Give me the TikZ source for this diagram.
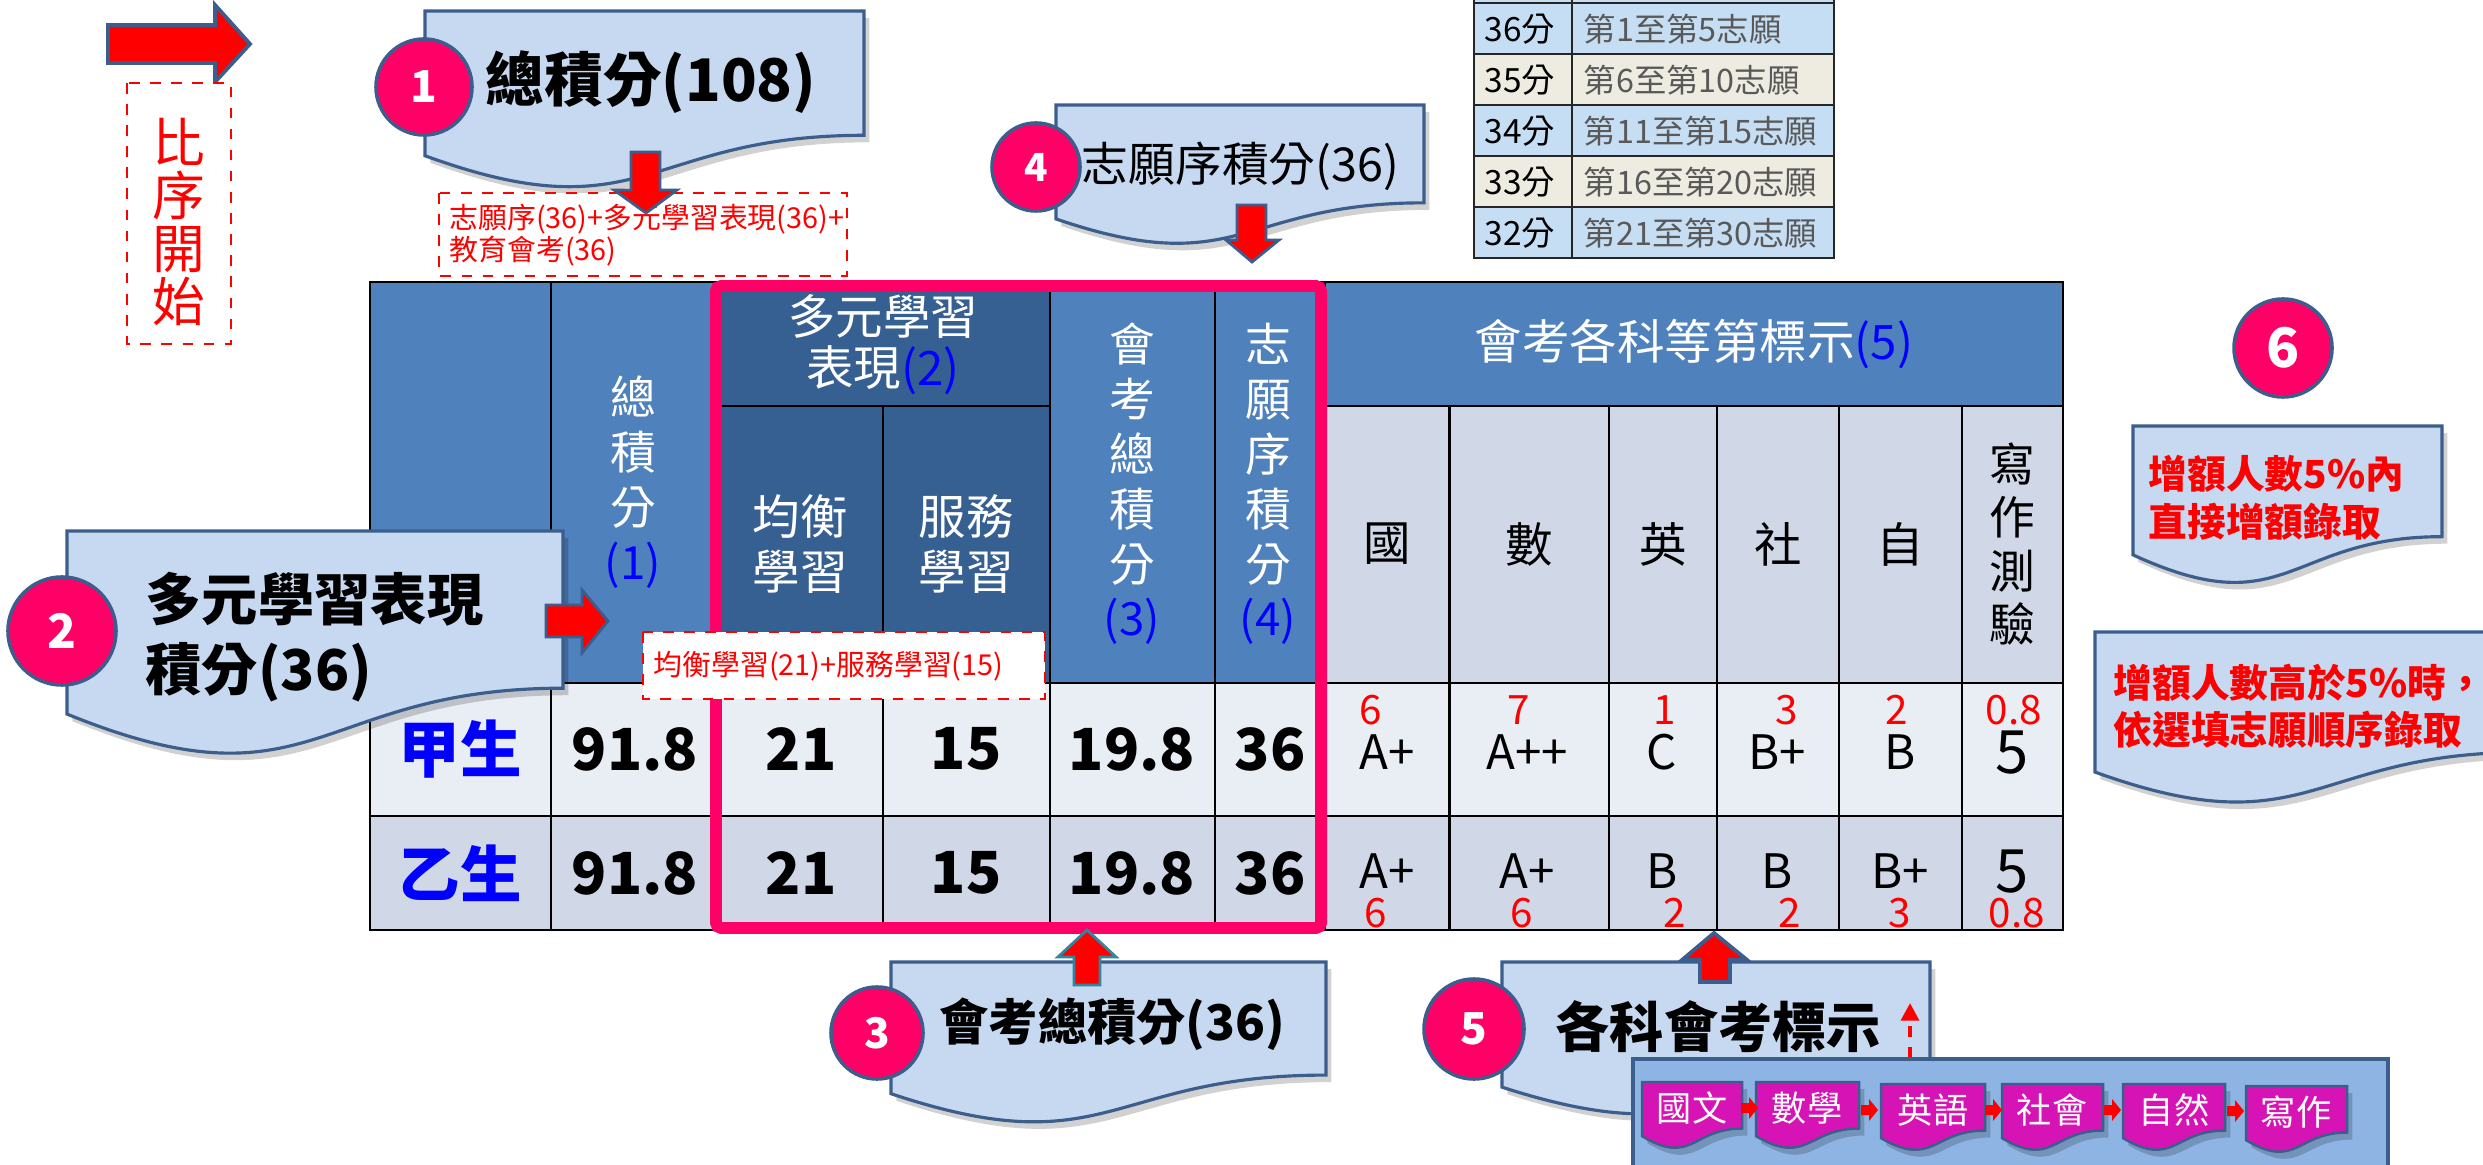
\documentclass[tikz,border=0pt]{standalone}
\usepackage{fontspec}
\setmainfont{Noto Sans CJK TC}
\usetikzlibrary{arrows.meta}
\definecolor{hdr}{HTML}{4F81BD}
\definecolor{hdrdark}{HTML}{376092}
\definecolor{subjc}{HTML}{D0D8E8}
\definecolor{rowa}{HTML}{E9EDF4}
\definecolor{rowb}{HTML}{D0D8E8}
\definecolor{pinkc}{HTML}{FF0066}
\definecolor{callfill}{HTML}{C6D9F1}
\definecolor{callline}{HTML}{3B5E8C}
\definecolor{panelc}{HTML}{8EB4E3}
\definecolor{magc}{HTML}{D614B5}
\definecolor{tblue}{HTML}{C6DEF3}
\definecolor{tbeige}{HTML}{EEECE1}
\definecolor{tgray}{HTML}{595959}
\definecolor{pureblue}{HTML}{0000FF}
\definecolor{tealb}{HTML}{31859C}
\newcommand\fsz[2]{\fontsize{#1}{#2}\selectfont}
\newcommand\docshape[5]{\path[#1] (#2,#3) -- ({#2+#4},#3) -- ({#2+#4},{#3+0.802*#5}) .. controls ({#2+0.5*#4},{#3+0.802*#5}) and ({#2+0.5*#4},{#3+1.45*#5}) .. (#2,{#3+0.934*#5}) -- cycle;}
\newcommand\smallarr[2]{\fill[red] (#1,{#2-5}) -- ({#1+8},{#2-5}) -- ({#1+8},{#2-11}) -- ({#1+17},#2) -- ({#1+8},{#2+11}) -- ({#1+8},{#2+5}) -- (#1,{#2+5}) -- cycle;}
\tikzset{
  shadowed/.style={preaction={fill=black, fill opacity=0.18, draw=none, transform canvas={xshift=1.5pt,yshift=-2pt}}},
  calloutbox/.style={fill=callfill, draw=callline, line width=0.9pt, shadowed},
  subjbox/.style={fill=magc, draw=callline, line width=0.7pt, shadowed},
  numcirc/.style={circle, fill=pinkc, draw=callline, line width=1pt, text=white, inner sep=0pt},
  blockarr/.style={fill=red, draw=callline, line width=0.8pt, line join=miter},
  gridl/.style={draw=black, line width=0.8pt},
  sgrid/.style={draw=black!85, line width=0.6pt},
  hdrtxt/.style={text=white, align=center, inner sep=0pt},
  celltxt/.style={text=black, inner sep=0pt},
  rednum/.style={text=red, inner sep=0pt, font=\fsz{11.5}{11.5}},
  grade/.style={text=black, inner sep=0pt, font=\fsz{13.5}{13.5}},
  bignum/.style={text=black, inner sep=0pt, font=\bfseries\fsz{16.5}{16.5}},
  dashbox/.style={draw=red, dashed, line width=0.5pt, fill=white},
  redtxt/.style={text=red, inner sep=0pt, align=left, font=\fsz{8.2}{9.1}},
}
\begin{document}
\begin{tikzpicture}[x=0.01cm,y=-0.01cm]
\useasboundingbox (0,0) rectangle (2483,1165);
\fill[white] (0,0) rectangle (2483,1165);
\begin{scope}
\clip (0,0) rectangle (2483,1165);

% ---------- small table (top right)
\fill[tblue] (1474,-10) rectangle (1834,3);
\fill[tblue] (1474,3) rectangle (1834,54);
\fill[tbeige] (1474,54) rectangle (1834,105);
\fill[tblue] (1474,105) rectangle (1834,156);
\fill[tbeige] (1474,156) rectangle (1834,207);
\fill[tblue] (1474,207) rectangle (1834,258);
\draw[sgrid] (1474,-10) rectangle (1834,258);
\foreach \yy in {3,54,105,156,207} \draw[sgrid] (1474,\yy) -- (1834,\yy);
\draw[sgrid] (1572,-10) -- (1572,258);
\node[celltxt, anchor=west, font=\fsz{9.5}{9.5}] (s1a) at (1484,29) {36分};
\node[celltxt, anchor=west, font=\fsz{9.5}{9.5}] (s2a) at (1484,80) {35分};
\node[celltxt, anchor=west, font=\fsz{9.5}{9.5}] (s3a) at (1484,131) {34分};
\node[celltxt, anchor=west, font=\fsz{9.5}{9.5}] (s4a) at (1484,182) {33分};
\node[celltxt, anchor=west, font=\fsz{9.5}{9.5}] (s5a) at (1484,233) {32分};
\node[celltxt, text=tgray, anchor=west, font=\fsz{9.2}{9.2}] (s1b) at (1583,29) {第1至第5志願};
\node[celltxt, text=tgray, anchor=west, font=\fsz{9.2}{9.2}] (s2b) at (1583,80) {第6至第10志願};
\node[celltxt, text=tgray, anchor=west, font=\fsz{9.2}{9.2}] (s3b) at (1583,131) {第11至第15志願};
\node[celltxt, text=tgray, anchor=west, font=\fsz{9.2}{9.2}] (s4b) at (1583,182) {第16至第20志願};
\node[celltxt, text=tgray, anchor=west, font=\fsz{9.2}{9.2}] (s5b) at (1583,233) {第21至第30志願};

% ---------- main table fills
\fill[hdr] (370,282) rectangle (716,683);
\fill[hdrdark] (716,282) rectangle (1050,683);
\fill[hdr] (1050,282) rectangle (1325,683);
\fill[hdr] (1325,282) rectangle (2063,406);
\fill[subjc] (1325,406) rectangle (2063,683);
\fill[rowa] (370,683) rectangle (2063,816);
\fill[rowb] (370,816) rectangle (2063,930);
% grid
\draw[gridl] (370,282) rectangle (2063,930);
\draw[gridl] (716,406) -- (1050,406);
\draw[gridl] (1325,406) -- (2063,406);
\draw[gridl] (370,683) -- (2063,683);
\draw[gridl] (370,816) -- (2063,816);
\foreach \xx in {551,716,1050,1215,1325} \draw[gridl] (\xx,282) -- (\xx,930);
\foreach \xx in {883,1449.5,1609,1717,1839,1962} \draw[gridl] (\xx,406) -- (\xx,930);

% header texts
\node[hdrtxt, font=\fsz{13}{15.6}] (h1) at (633,482) {總\\積\\分\\\textcolor{pureblue}{(1)}};
\node[hdrtxt, font=\fsz{13.5}{14.5}] (h2) at (883,345) {多元學習\\表現\textcolor{pureblue}{(2)}};
\node[hdrtxt, font=\fsz{13.5}{15.4}] (h2a) at (800,544) {均衡\\學習};
\node[hdrtxt, font=\fsz{13.5}{15.4}] (h2b) at (966,544) {服務\\學習};
\node[hdrtxt, font=\fsz{13}{15.6}] (h3) at (1132,484) {會\\考\\總\\積\\分\\\textcolor{pureblue}{(3)}};
\node[hdrtxt, font=\fsz{13}{15.6}] (h4) at (1268,484) {志\\願\\序\\積\\分\\\textcolor{pureblue}{(4)}};
\node[hdrtxt, font=\fsz{13.5}{13.5}] (h5) at (1694,344) {會考各科等第標示\textcolor{pureblue}{(5)}};
\node[celltxt, font=\fsz{13.5}{13.5}] (hs1) at (1387,544) {國};
\node[celltxt, font=\fsz{13.5}{13.5}] (hs2) at (1529,544) {數};
\node[celltxt, font=\fsz{13.5}{13.5}] (hs3) at (1663,544) {英};
\node[celltxt, font=\fsz{13.5}{13.5}] (hs4) at (1778,544) {社};
\node[celltxt, font=\fsz{13.5}{13.5}] (hs5) at (1900,544) {自};
\node[celltxt, align=center, font=\fsz{13}{15.1}] (hs6) at (2012,544) {寫\\作\\測\\驗};

% row 甲
\node[celltxt, text=pureblue, font=\bfseries\fsz{17.5}{17.5}] (ra0) at (460,749) {甲生};
\node[bignum] (ra1) at (635,749) {91.8};
\node[bignum] (ra2) at (801,749) {21};
\node[bignum] (ra3) at (966,749) {15};
\node[bignum] (ra4) at (1132,749) {19.8};
\node[bignum] (ra5) at (1270,749) {36};
\node[grade] (ga1) at (1387,752) {A+};
\node[grade] (ga2) at (1527,752) {A++};
\node[grade] (ga3) at (1662,752) {C};
\node[grade] (ga4) at (1777,752) {B+};
\node[grade] (ga5) at (1900,752) {B};
\node[celltxt, font=\fsz{17}{17}] (ga6) at (2012,753) {5};
\node[rednum] (na1) at (1371,710) {6};
\node[rednum] (na2) at (1519,710) {7};
\node[rednum] (na3) at (1665,710) {1};
\node[rednum] (na4) at (1787,710) {3};
\node[rednum] (na5) at (1897,710) {2};
\node[rednum] (na6) at (2014,710) {0.8};
% row 乙
\node[celltxt, text=pureblue, font=\bfseries\fsz{17.5}{17.5}] (rb0) at (460,873) {乙生};
\node[bignum] (rb1) at (635,873) {91.8};
\node[bignum] (rb2) at (801,873) {21};
\node[bignum] (rb3) at (966,873) {15};
\node[bignum] (rb4) at (1132,873) {19.8};
\node[bignum] (rb5) at (1270,873) {36};
\node[grade] (gb1) at (1387,871) {A+};
\node[grade] (gb2) at (1527,871) {A+};
\node[grade] (gb3) at (1662,871) {B};
\node[grade] (gb4) at (1777,871) {B};
\node[grade] (gb5) at (1900,871) {B+};
\node[celltxt, font=\fsz{17}{17}] (gb6) at (2012,872) {5};
\node[rednum] (nb1) at (1376,913) {6};
\node[rednum] (nb2) at (1522,913) {6};
\node[rednum] (nb3) at (1675,913) {2};
\node[rednum] (nb4) at (1790,913) {2};
\node[rednum] (nb5) at (1900,913) {3};
\node[rednum] (nb6) at (2017,913) {0.8};

% pink frame
\draw[pinkc, line width=3.4pt, rounded corners=1.5pt] (716,286) rectangle (1321,928);

% ---------- 比序開始
\draw[blockarr, line width=1.1pt] (108,25) -- (215,25) -- (215,5) -- (250,44) -- (215,82) -- (215,63) -- (108,63) -- cycle;
\draw[dashbox] (127,83) rectangle (231,344);
\node[text=red, inner sep=0pt, align=center, font=\fsz{15}{15}] (bx) at (179,222) {比\\序\\開\\始};

% ---------- callout 1
\docshape{calloutbox}{425}{11}{439}{155}
\node[numcirc, minimum size=0.96cm, font=\bfseries\fsz{12.5}{12.5}] (n1) at (424,87) {1};
\node[anchor=west, inner sep=0pt, font=\bfseries\fsz{16.7}{16.7}] (t1) at (485,82) {總積分(108)};
\draw[dashbox] (439,193) rectangle (847,276);
\node[redtxt, anchor=north west] (d1) at (449,203) {志願序(36)+多元學習表現(36)+\\教育會考(36)};
\draw[blockarr] (631,152) -- (660,152) -- (660,190) -- (677,190) -- (646,213) -- (614,190) -- (631,190) -- cycle;

% ---------- callout 4
\docshape{calloutbox}{1056}{105}{368}{122}
\node[numcirc, minimum size=0.88cm, font=\bfseries\fsz{11}{11}] (n4) at (1036,167) {4};
\node[anchor=west, inner sep=0pt, font=\fsz{13.3}{13.3}] (t4) at (1081,166) {志願序積分(36)};
\draw[blockarr] (1237,205) -- (1266,205) -- (1266,240) -- (1279,240) -- (1252,262) -- (1226,240) -- (1237,240) -- cycle;

% ---------- callout 2
\docshape{calloutbox}{67}{531}{496}{196}
\node[numcirc, minimum size=1.08cm, font=\bfseries\fsz{13.5}{13.5}] (n2) at (62,631) {2};
\node[anchor=west, align=left, inner sep=0pt, font=\bfseries\fsz{16}{19.9}] (t2) at (145,637) {多元學習表現\\積分(36)};
\draw[blockarr] (546,605) -- (582,605) -- (582,590) -- (608,621) -- (582,653) -- (582,637) -- (546,637) -- cycle;
\draw[dashbox] (643,632) rectangle (1045,699);
\node[redtxt, anchor=west] (d2) at (653,666) {均衡學習(21)+服務學習(15)};

% ---------- callout 3
\docshape{calloutbox}{891}{962}{435}{141}
\node[numcirc, minimum size=0.92cm, font=\bfseries\fsz{12}{12}] (n3) at (877,1033) {3};
\node[anchor=west, inner sep=0pt, font=\bfseries\fsz{14}{14}] (t3) at (939,1024) {會考總積分(36)};
\draw[blockarr, draw=tealb] (1074,985) -- (1100,985) -- (1100,957) -- (1116,957) -- (1087,930) -- (1058,957) -- (1074,957) -- cycle;

% ---------- callout 5
\docshape{calloutbox}{1502}{962}{428}{134}
\node[numcirc, minimum size=1.0cm, font=\bfseries\fsz{12.5}{12.5}] (n5) at (1474,1029) {5};
\node[anchor=west, inner sep=0pt, font=\bfseries\fsz{15.4}{15.4}] (t5) at (1555,1027) {各科會考標示};
\draw[blockarr, line width=1.1pt] (1700,982) -- (1730,982) -- (1730,960) -- (1747,960) -- (1714,933) -- (1682,960) -- (1700,960) -- cycle;
\coordinate (d5a) at (1910,1058);
\coordinate (d5b) at (1910,1003);
\draw[red, dashed, line width=1.2pt, -{Triangle[length=5pt,width=5pt]}] (d5a) -- (d5b);
% panel
\draw[fill=panelc, draw=callline, line width=0.9pt] (1633,1059) rectangle (2388,1200);
\docshape{subjbox}{1642}{1082}{100}{58}
\docshape{subjbox}{1756}{1082}{103}{58}
\docshape{subjbox}{1881}{1084}{104}{58}
\docshape{subjbox}{2002}{1084}{101}{58}
\docshape{subjbox}{2123}{1084}{102}{58}
\docshape{subjbox}{2246}{1086}{101}{58}
\node[text=white, inner sep=0pt, font=\fsz{10}{10}] (p1) at (1692,1108) {國文};
\node[text=white, inner sep=0pt, font=\fsz{10}{10}] (p2) at (1807,1108) {數學};
\node[text=white, inner sep=0pt, font=\fsz{10}{10}] (p3) at (1933,1110) {英語};
\node[text=white, inner sep=0pt, font=\fsz{10}{10}] (p4) at (2052,1110) {社會};
\node[text=white, inner sep=0pt, font=\fsz{10}{10}] (p5) at (2174,1110) {自然};
\node[text=white, inner sep=0pt, font=\fsz{10}{10}] (p6) at (2296,1112) {寫作};
\smallarr{1741}{1108}
\smallarr{1861}{1110}
\smallarr{1985}{1110}
\smallarr{2104}{1110}
\smallarr{2227}{1111}

% ---------- item 6
\node[numcirc, minimum size=0.98cm, font=\bfseries\fsz{15.5}{15.5}] (n6) at (2283,348) {6};
\docshape{calloutbox}{2133}{426}{309}{138}
\node[text=red, anchor=west, align=left, inner sep=0pt, font=\bfseries\fsz{11}{13.7}] (t6a) at (2148,498) {增額人數5\%內\\直接增額錄取};
\docshape{calloutbox}{2095}{632}{430}{150}
\node[text=red, anchor=west, align=left, inner sep=0pt, font=\bfseries\fsz{11}{13.4}] (t6b) at (2113,706) {增額人數高於5\%時，\\依選填志願順序錄取};
\end{scope}
\end{tikzpicture}
\end{document}
